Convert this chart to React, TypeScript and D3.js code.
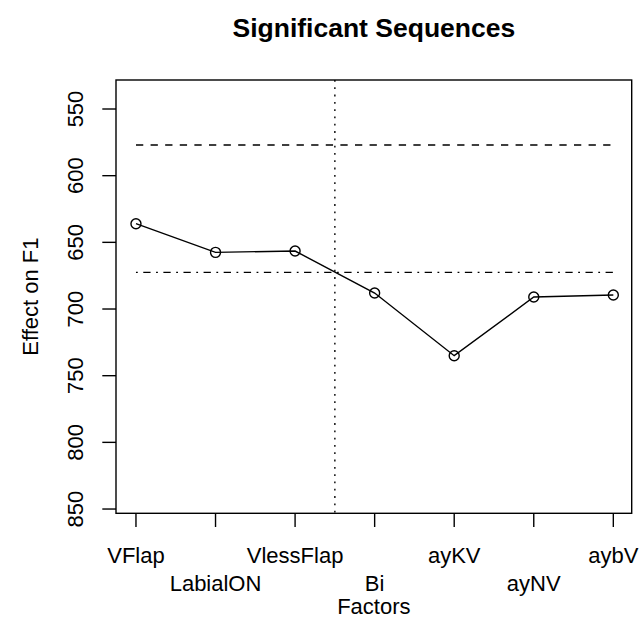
import React from "react";
import * as d3 from "d3";

const categories = ["VFlap", "LabialON", "VlessFlap", "Bi", "ayKV", "ayNV", "aybV"];
const effects = [636, 657.5, 656.5, 688, 735, 691, 689.5];
const yTicks = [550, 600, 650, 700, 750, 800, 850];
const upperRef = 577;
const lowerRef = 672.5;
const divider = 3.5;
const title = "Significant Sequences";
const xLabel = "Factors";
const yLabel = "Effect on F1";

const W = 639;
const H = 618;
const box = { left: 116, right: 631.7, top: 80, bottom: 513.3 };
const FONT = "'Liberation Sans', Arial, Helvetica, sans-serif";

export default function App() {
  const x = d3.scaleLinear().domain([0.749, 7.231]).range([box.left, box.right]);
  const y = d3.scaleLinear().domain([528.25, 853.2]).range([box.top, box.bottom]);
  const idx = categories.map((_, i) => i + 1);
  const line = d3
    .line<number>()
    .x((_, i) => x(i + 1))
    .y((d) => y(d));
  const sw = 1.4;
  const tick = 13.7;
  return (
    <svg
      width={W}
      height={H}
      style={{ position: "absolute", left: 0, top: 0, display: "block", background: "#fff" }}
      fontFamily={FONT}
    >
      <rect x={0} y={0} width={W} height={H} fill="#fff" />
      <text x={(box.left + box.right) / 2} y={36.5} textAnchor="middle" fontWeight="bold" fontSize={26.5}>
        {title}
      </text>
      {/* reference lines */}
      <line
        x1={x(1)}
        x2={x(7)}
        y1={y(upperRef)}
        y2={y(upperRef)}
        stroke="#000"
        strokeWidth={sw}
        strokeDasharray="7.3,7.3"
      />
      <line
        x1={x(1)}
        x2={x(7)}
        y1={y(lowerRef)}
        y2={y(lowerRef)}
        stroke="#000"
        strokeWidth={sw}
        strokeDasharray="1.8,5.5,7.3,5.5"
      />
      <line
        x1={x(divider)}
        x2={x(divider)}
        y1={box.top}
        y2={box.bottom}
        stroke="#000"
        strokeWidth={sw}
        strokeDasharray="1.8,5.5"
      />
      {/* data line */}
      <path d={line(effects) || ""} fill="none" stroke="#000" strokeWidth={sw} />
      {effects.map((v, i) => (
        <circle key={i} cx={x(i + 1)} cy={y(v)} r={5} fill="none" stroke="#000" strokeWidth={sw} />
      ))}
      {/* box */}
      <rect
        x={box.left}
        y={box.top}
        width={box.right - box.left}
        height={box.bottom - box.top}
        fill="none"
        stroke="#000"
        strokeWidth={sw}
      />
      {/* y axis */}
      {yTicks.map((t) => (
        <g key={t}>
          <line x1={box.left - tick} x2={box.left} y1={y(t)} y2={y(t)} stroke="#000" strokeWidth={sw} />
          <text transform={`translate(83,${y(t)}) rotate(-90)`} textAnchor="middle" fontSize={22}>
            {t}
          </text>
        </g>
      ))}
      {/* x axis */}
      {idx.map((k, i) => (
        <g key={k}>
          <line x1={x(k)} x2={x(k)} y1={box.bottom} y2={box.bottom + tick} stroke="#000" strokeWidth={sw} />
          <text x={x(k)} y={i % 2 === 0 ? 562.7 : 590.7} textAnchor="middle" fontSize={22}>
            {categories[i]}
          </text>
        </g>
      ))}
      <text x={(box.left + box.right) / 2} y={614} textAnchor="middle" fontSize={22}>
        {xLabel}
      </text>
      <text
        transform={`translate(37.5,${(box.top + box.bottom) / 2}) rotate(-90)`}
        textAnchor="middle"
        fontSize={22}
      >
        {yLabel}
      </text>
    </svg>
  );
}
